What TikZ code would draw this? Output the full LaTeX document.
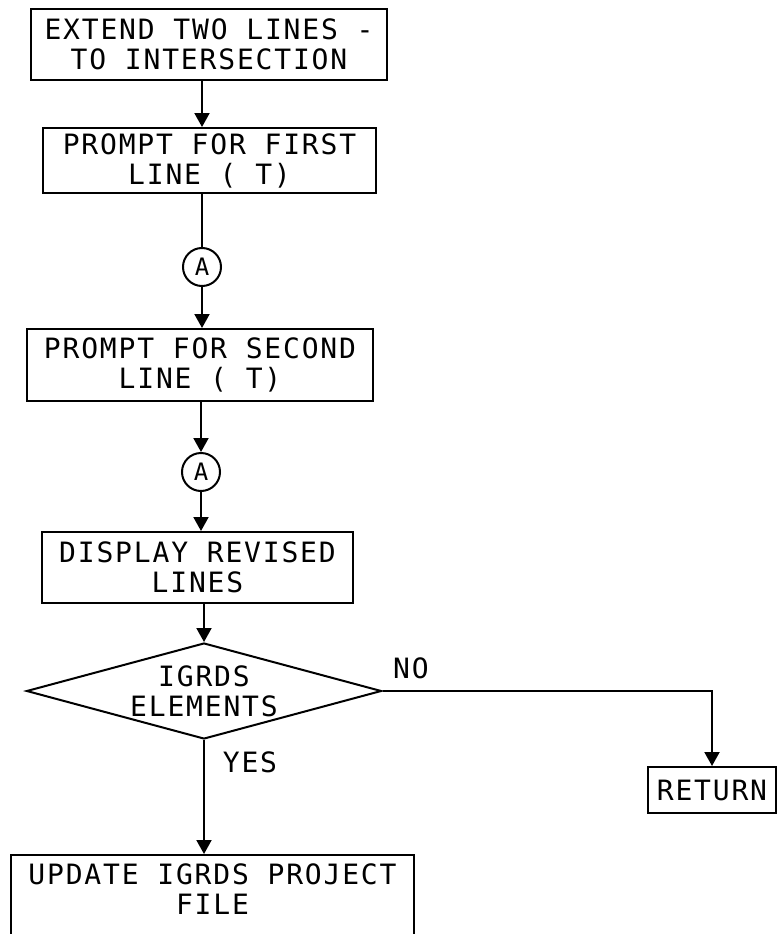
\documentclass[tikz,border=0pt]{standalone}
\usepackage{fontspec}
\newfontfamily\plotfont{DejaVu Sans Mono}[LetterSpace=6.5]
\usetikzlibrary{arrows.meta,shapes.geometric}

\begin{document}
\begin{tikzpicture}[x=1pt,y=-1pt,
  every node/.style={font=\plotfont\fontsize{28}{30}\selectfont, inner sep=0pt},
  box/.style={draw, line width=2pt, rectangle, align=center},
  conn/.style={line width=2pt},
  arr/.style={conn, -{Triangle[length=14pt,width=15pt]}},
  joint/.style={draw, circle, line width=2pt, minimum size=38pt,
                font=\plotfont\fontsize{24}{24}\selectfont},
]
\useasboundingbox (0,0) rectangle (777,934);
\clip (0,0) rectangle (777,934);

% process boxes
\node[box, minimum width=356pt, minimum height=71pt] (b1) at (209,44.5)
  {EXTEND TWO LINES -\\TO INTERSECTION};
\node[box, minimum width=333pt, minimum height=65pt] (b2) at (209.5,160.5)
  {PROMPT FOR FIRST\\LINE ( T)};
\node[joint] (a1) at (202,267) {A};
\node[box, minimum width=346pt, minimum height=72pt] (b3) at (200,365)
  {PROMPT FOR SECOND\\LINE ( T)};
\node[joint] (a2) at (201,472) {A};
\node[box, minimum width=311pt, minimum height=71pt] (b4) at (197.5,567.5)
  {DISPLAY REVISED\\LINES};

% decision
\node[draw, diamond, aspect=3.7, minimum width=355pt, minimum height=96pt,
      line width=2pt, align=center] (d) at (204,691) {IGRDS\\ELEMENTS};

\node[box, minimum width=128pt, minimum height=46pt] (ret) at (712,790) {RETURN};

% last box runs past the lower edge
\node[box, minimum width=403pt, minimum height=95pt] (b5) at (212.5,902.5) {};
\node[align=center] (b5t) at (212.5,889) {UPDATE IGRDS PROJECT\\FILE};

% labels
\node (no) at (411,668) {NO};
\node (yes) at (250,762) {YES};

% connectors
\draw[arr] (b1.south -| a1) -- (b2.north -| a1);
\draw[conn] (b2.south -| a1) -- (a1.north);
\draw[arr] (a1.south) -- (b3.north -| a1);
\draw[arr] (b3.south -| a2) -- (a2.north);
\draw[arr] (a2.south) -- (b4.north -| a2);
\draw[arr] (b4.south -| d) -- (d.north);
\draw[arr] (d.east) -| (ret.north);
\draw[arr] (d.south) -- (b5.north -| d);
\end{tikzpicture}
\end{document}
